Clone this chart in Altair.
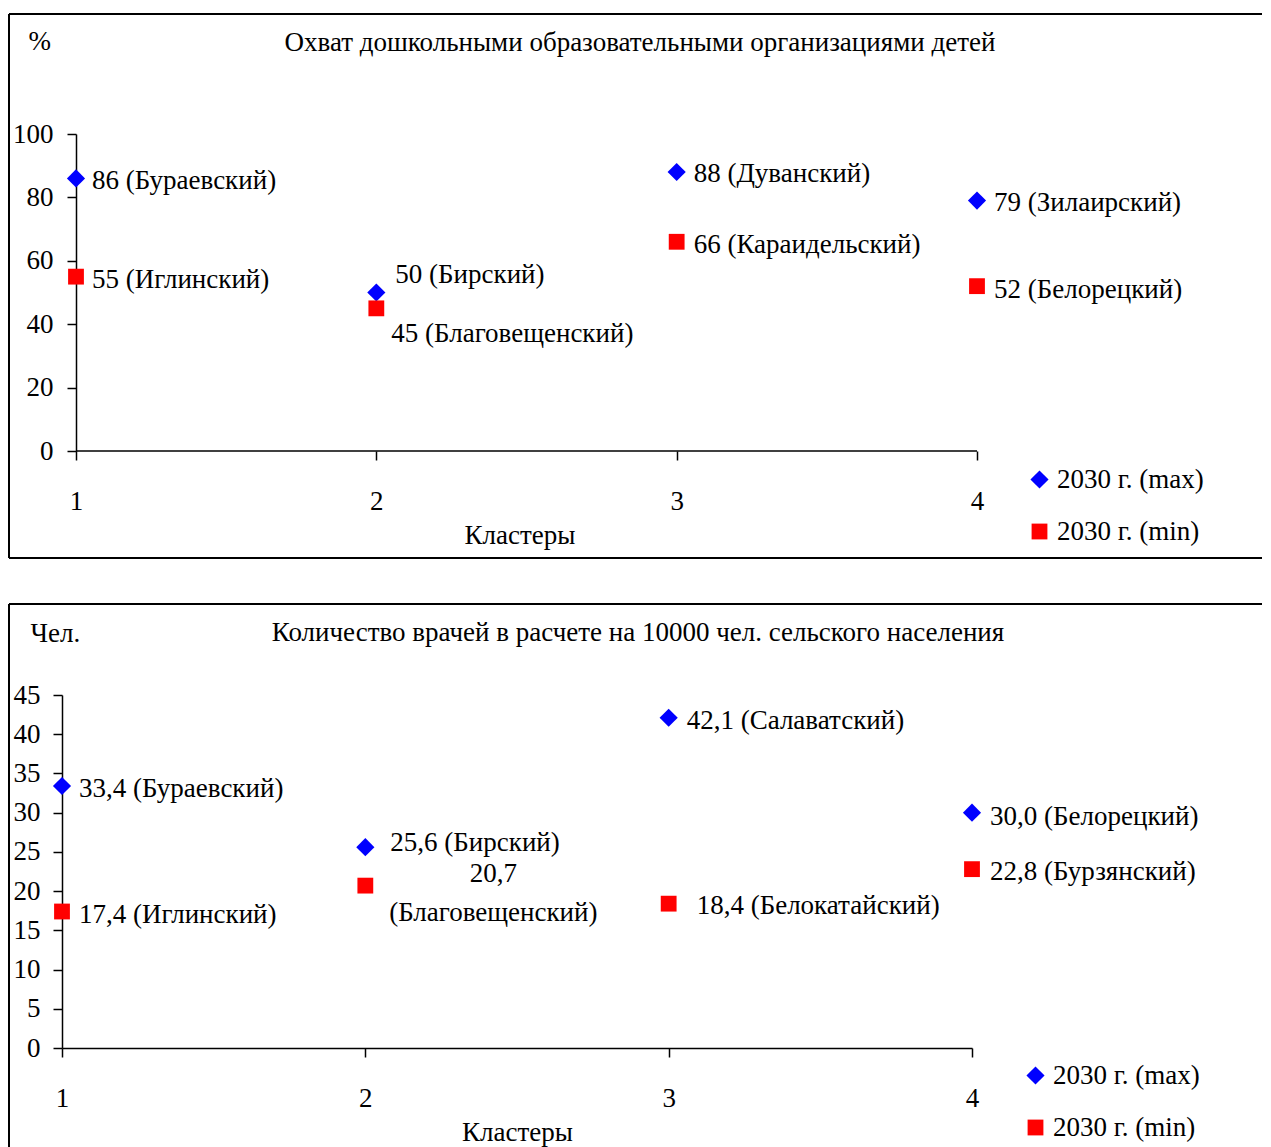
import altair as alt
import pandas as pd

FONT = "Liberation Serif"
FS = 27

# ---------------- data ----------------
clusters = [1, 2, 3, 4]
series_names = ["2030 г. (max)", "2030 г. (min)"]

pre_max = [86, 50, 88, 79]
pre_max_regions = ["Бураевский", "Бирский", "Дуванский", "Зилаирский"]
pre_min = [55, 45, 66, 52]
pre_min_regions = ["Иглинский", "Благовещенский", "Караидельский", "Белорецкий"]

doc_max = [33.4, 25.6, 42.1, 30.0]
doc_max_regions = ["Бураевский", "Бирский", "Салаватский", "Белорецкий"]
doc_min = [17.4, 20.7, 18.4, 22.8]
doc_min_regions = ["Иглинский", "Благовещенский", "Белокатайский", "Бурзянский"]

title_pre = "Охват дошкольными образовательными организациями детей"
title_doc = "Количество врачей в расчете на 10000 чел. сельского населения"
unit_pre = "%"
unit_doc = "Чел."
x_title = "Кластеры"
pre_ticks = [0, 20, 40, 60, 80, 100]
doc_ticks = [0, 5, 10, 15, 20, 25, 30, 35, 40, 45]

# ---------------- styling (label offsets in px: dx, dy, align) ----------------
pre_off_max = [(16, 3, "left"), (19, -18, "left"), (17, 2, "left"), (17, 2, "left")]
pre_off_min = [(16, 3, "left"), (15, 26, "left"), (17, 3, "left"), (17, 4, "left")]
doc_off_max = [(17, 3, "left"), (25, -4, "left"), (18, 3, "left"), (18, 4, "left")]
doc_off_min = [(17, 3, "left"), (128, -12, "center"), (28, 2, "left"), (18, 3, "left")]
doc_wrap_min = [False, True, False, False]
no_wrap = [False, False, False, False]
marker_sizes = [330, 250]


def fmt_int(v):
    return str(int(v))


def fmt_dec(v):
    return f"{v:.1f}".replace(".", ",")


def panel(maxv, maxr, minv, minr, fmt, off_max, off_min, wrap_min,
          w, h, xmin, ymax, yticks, yaxis_offset, draw_x_domain,
          unit, unit_xy, title, title_xy, frame, legend_xy, ylab_pad):
    rows, offs = [], []
    for i, c in enumerate(clusters):
        rows.append(dict(k=len(rows), cl=c, v=maxv[i], s=series_names[0],
                         lab=f"{fmt(maxv[i])} ({maxr[i]})"))
        offs.append(off_max[i])
        sep = "\n" if wrap_min[i] else " "
        rows.append(dict(k=len(rows), cl=c, v=minv[i], s=series_names[1],
                         lab=f"{fmt(minv[i])}{sep}({minr[i]})"))
        offs.append(off_min[i])
    df = pd.DataFrame(rows)

    x_enc = alt.X(
        "cl:Q",
        scale=alt.Scale(domain=[xmin, 4], nice=False, zero=False),
        axis=alt.Axis(values=clusters, format="d", grid=False,
                      domain=draw_x_domain,
                      tickSize=9, tickWidth=1.5, domainWidth=1.5,
                      domainColor="black", tickColor="black",
                      labelColor="black", labelFont=FONT, labelFontSize=FS,
                      labelPadding=28, labelFlush=False,
                      title=x_title, titleFont=FONT, titleFontSize=FS,
                      titleFontWeight="normal", titleColor="black",
                      titleY=92, titleBaseline="alphabetic"),
    )
    y_enc = alt.Y(
        "v:Q",
        scale=alt.Scale(domain=[0, ymax], nice=False, zero=True),
        axis=alt.Axis(values=yticks, grid=False, offset=yaxis_offset,
                      tickSize=9, tickWidth=1.5, domainWidth=1.5,
                      domainColor="black", tickColor="black",
                      labelColor="black", labelFont=FONT, labelFontSize=FS,
                      labelPadding=ylab_pad, labelFlush=False,
                      title=unit, titleFont=FONT, titleFontSize=FS,
                      titleFontWeight="normal", titleColor="black",
                      titleAngle=0, titleAlign="left", titleBaseline="middle",
                      titleX=unit_xy[0], titleY=unit_xy[1]),
    )
    legend = alt.Legend(title=None, orient="none",
                        legendX=legend_xy[0], legendY=legend_xy[1],
                        symbolStrokeWidth=0,
                        labelFont=FONT, labelFontSize=FS, labelColor="black",
                        labelOffset=4, rowPadding=24, padding=0)
    color = alt.Color("s:N", scale=alt.Scale(domain=series_names,
                                             range=["#0000FF", "#FF0000"]),
                      legend=legend)
    shape = alt.Shape("s:N", scale=alt.Scale(domain=series_names,
                                             range=["diamond", "square"]),
                      legend=legend)
    size = alt.Size("s:N", scale=alt.Scale(domain=series_names,
                                           range=marker_sizes),
                    legend=legend)

    layers = []

    # frame around the panel (top, left, bottom edges)
    fx0, fx1, fy0, fy1, with_bottom = frame
    edges = [(fx0, fx1, fy0, fy0), (fx0, fx0, fy0, fy1)]
    if with_bottom:
        edges.append((fx0, fx1, fy1, fy1))
    for (a, b, c, d) in edges:
        layers.append(
            alt.Chart(alt.Data(values=[{"e": 1}])).mark_rule(
                color="black", strokeWidth=2).encode(
                x=alt.value(a), x2=alt.value(b),
                y=alt.value(c), y2=alt.value(d)))

    txt_kw = dict(baseline="middle", font=FONT, fontSize=FS, color="black")
    layers.append(
        alt.Chart(alt.Data(values=[{"t": title}])).mark_text(
            align="center", **txt_kw).encode(
            x=alt.value(title_xy[0]), y=alt.value(title_xy[1]), text="t:N"))

    if not draw_x_domain:
        base_line = pd.DataFrame([{"cl": clusters[0], "cl2": clusters[-1], "v": 0}])
        layers.append(
            alt.Chart(base_line).mark_rule(color="black", strokeWidth=1.5).encode(
                x=x_enc, x2="cl2:Q", y=y_enc))

    layers.append(
        alt.Chart(df).mark_point(filled=True, opacity=1).encode(
            x=x_enc, y=y_enc, color=color, shape=shape, size=size))

    for k, (dx, dy, al) in enumerate(offs):
        layers.append(
            alt.Chart(df).transform_filter(f"datum.k == {k}").mark_text(
                align=al, dx=dx, dy=dy, lineBreak="\n", lineHeight=39,
                **txt_kw).encode(x=x_enc, y=y_enc, text="lab:N"))

    return alt.layer(*layers).properties(width=w, height=h)


# top panel: plot origin shares x with bottom panel (page x 62);
# its y axis sits 14 px inside at cluster 1
top = panel(pre_max, pre_max_regions, pre_min, pre_min_regions, fmt_int,
            pre_off_max, pre_off_min, no_wrap,
            w=915, h=317, xmin=1 - 14 * 3 / 901, ymax=100, yticks=pre_ticks,
            yaxis_offset=-14, draw_x_domain=False,
            unit=unit_pre, unit_xy=(-48, -93),
            title=title_pre, title_xy=(578, -91),
            frame=(-53, 1200, -120, 424, True),
            legend_xy=(964, 332), ylab_pad=14)

bottom = panel(doc_max, doc_max_regions, doc_min, doc_min_regions, fmt_dec,
               doc_off_max, doc_off_min, doc_wrap_min,
               w=910, h=353, xmin=1, ymax=45, yticks=doc_ticks,
               yaxis_offset=0, draw_x_domain=True,
               unit=unit_doc, unit_xy=(-32, -62),
               title=title_doc, title_xy=(576, -62),
               frame=(-53, 1200, -91, 460, False),
               legend_xy=(960, 367), ylab_pad=13)

chart = alt.ConcatChart(
    concat=[top, bottom], columns=1, spacing=44, bounds="full"
).resolve_scale(
    x="independent", y="independent", color="independent",
    shape="independent", size="independent"
).resolve_legend(
    color="independent", shape="independent", size="independent"
).properties(
    padding={"top": 5, "left": 0, "right": 0, "bottom": 0},
    background="white",
).configure_view(stroke=None)

chart.save("out.html", embed_options={"renderer": "svg", "actions": False})
